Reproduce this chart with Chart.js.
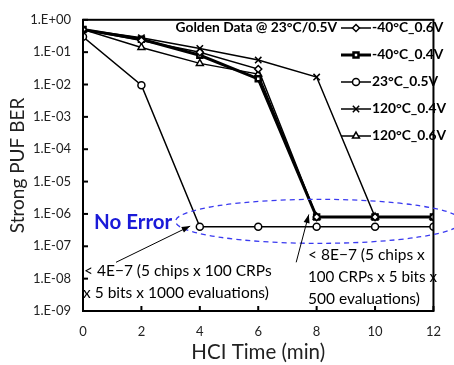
<!DOCTYPE html>
<html>
<head>
<meta charset="utf-8">
<script src="https://cdn.jsdelivr.net/npm/chart.js@4.4.1/dist/chart.umd.min.js"></script>
<style>
  html, body { margin: 0; padding: 0; background: #fff; }
  #wrap { width: 454px; height: 365px; }
</style>
</head>
<body>
<div id="wrap"><canvas id="chart" width="454" height="365"></canvas></div>
<script>
// HCI time (min) and BER per condition
const hciTime = [0, 2, 4, 6, 8, 10, 12];
const ber_m40_06 = [0.5, 0.23, 0.1, 0.03, 8e-7, 8e-7, 8e-7];
const ber_m40_04 = [0.5, 0.25, 0.08, 0.015, 8e-7, 8e-7, 8e-7];
const ber_23_05 = [0.3, 0.0095, 4e-7, 4e-7, 4e-7, 4e-7, 4e-7];
const ber_120_04 = [0.5, 0.28, 0.13, 0.057, 0.017, 8e-7, 8e-7];
const ber_120_06 = [0.5, 0.14, 0.045, 0.021, 8e-7, 8e-7, 8e-7];

const seriesLabels = ['-40°C_0.6V', '-40°C_0.4V', '23°C_0.5V', '120°C_0.4V', '120°C_0.6V'];
const yDecades = [1, 1e-1, 1e-2, 1e-3, 1e-4, 1e-5, 1e-6, 1e-7, 1e-8, 1e-9];
const xTicks = [0, 2, 4, 6, 8, 10, 12];

const FONT = 'Lato, "Open Sans", sans-serif';

function toPoints(values) {
  return hciTime.map((t, i) => ({ x: t, y: values[i] }));
}

function makeSet(label, values, style, extra) {
  return Object.assign({
    label,
    data: toPoints(values),
    borderColor: '#000',
    backgroundColor: '#fff',
    borderWidth: 1.5,
    pointStyle: style,
    pointRadius: 3.5,
    pointBorderWidth: 1.5,
    pointBorderColor: '#000',
    pointBackgroundColor: '#fff',
    tension: 0
  }, extra || {});
}

const datasets = [
  makeSet(seriesLabels[0], ber_m40_06, 'rectRot'),
  makeSet(seriesLabels[1], ber_m40_04, 'rect', { borderWidth: 3, pointBorderWidth: 2.5 }),
  makeSet(seriesLabels[2], ber_23_05, 'circle'),
  makeSet(seriesLabels[3], ber_120_04, 'crossRot', { pointRadius: 4.5 }),
  makeSet(seriesLabels[4], ber_120_06, 'triangle', { pointRadius: 4 })
];

// Frame, inward ticks, legend, ellipse and notes
const decorations = {
  id: 'decorations',
  afterDatasetsDraw(chart) {
    const ctx = chart.ctx;
    const area = chart.chartArea;
    const xs = chart.scales.x, ys = chart.scales.y;
    ctx.save();

    // frame
    ctx.strokeStyle = '#000';
    ctx.lineWidth = 2;
    ctx.strokeRect(area.left, area.top, area.right - area.left, area.bottom - area.top);

    // inward tick marks
    ctx.lineWidth = 2;
    yDecades.forEach(v => {
      const y = ys.getPixelForValue(v);
      ctx.beginPath(); ctx.moveTo(area.left, y); ctx.lineTo(area.left + 5, y); ctx.stroke();
    });
    xTicks.forEach(v => {
      const x = xs.getPixelForValue(v);
      ctx.beginPath(); ctx.moveTo(x, area.bottom); ctx.lineTo(x, area.bottom - 5); ctx.stroke();
    });

    // dashed ellipse around the error-free points
    const cx = xs.getPixelForValue(8.07);
    const cy = ys.getPixelForValue(5.9e-7);
    const rx = xs.getPixelForValue(8.07 + 4.9) - cx;
    const ry = ys.getPixelForValue(5.9e-7 * Math.pow(10, -0.68)) - cy;
    ctx.setLineDash([5, 4]);
    ctx.strokeStyle = '#3a3af0';
    ctx.lineWidth = 1.3;
    ctx.beginPath();
    ctx.ellipse(cx, cy, rx, ry, 0, 0, Math.PI * 2);
    ctx.stroke();
    ctx.setLineDash([]);

    // legend
    ctx.fillStyle = '#000';
    ctx.font = 'bold 13.8px ' + FONT;
    ctx.textBaseline = 'middle';
    ctx.textAlign = 'right';
    ctx.fillText('Golden Data @ 23°C/0.5V', 337, 28);
    ctx.textAlign = 'left';
    chart.data.datasets.forEach((ds, i) => {
      const y = 28 + i * 27;
      ctx.strokeStyle = '#000';
      ctx.lineWidth = ds.borderWidth;
      ctx.beginPath(); ctx.moveTo(341, y); ctx.lineTo(371, y); ctx.stroke();
      ctx.lineWidth = ds.pointBorderWidth;
      ctx.fillStyle = '#fff';
      Chart.helpers.drawPoint(ctx, { pointStyle: ds.pointStyle, radius: ds.pointRadius, borderWidth: ds.pointBorderWidth, rotation: 0 }, 356, y);
      ctx.fillStyle = '#000';
      ctx.fillText(ds.label, 372, y);
    });

    // "No Error"
    ctx.fillStyle = '#1a1ad8';
    ctx.font = 'bold 20.5px ' + FONT;
    ctx.fillText('No Error', 94, 222);

    // arrows
    const arrow = (x0, y0, x1, y1) => {
      const p0 = { x: xs.getPixelForValue(x0), y: ys.getPixelForValue(y0) };
      const p1 = { x: xs.getPixelForValue(x1), y: ys.getPixelForValue(y1) };
      const a = Math.atan2(p1.y - p0.y, p1.x - p0.x);
      ctx.strokeStyle = '#000';
      ctx.fillStyle = '#000';
      ctx.lineWidth = 1;
      ctx.beginPath(); ctx.moveTo(p0.x, p0.y); ctx.lineTo(p1.x, p1.y); ctx.stroke();
      ctx.beginPath();
      ctx.moveTo(p1.x, p1.y);
      ctx.lineTo(p1.x - 9 * Math.cos(a - 0.35), p1.y - 9 * Math.sin(a - 0.35));
      ctx.lineTo(p1.x - 9 * Math.cos(a + 0.35), p1.y - 9 * Math.sin(a + 0.35));
      ctx.closePath(); ctx.fill();
    };
    arrow(1.13, 3.2e-8, 3.67, 4.2e-7);
    arrow(7.3, 3.2e-8, 7.73, 9.6e-7);

    // notes
    ctx.fillStyle = '#000';
    ctx.font = '15.5px ' + FONT;
    ctx.fillText('< 4E\u22127 (5 chips x 100 CRPs', 84, 271);
    ctx.fillText('x 5 bits x 1000 evaluations)', 83, 293);
    ctx.fillText('< 8E\u22127 (5 chips x', 308, 255);
    ctx.fillText('100 CRPs x 5 bits x', 308, 277, 129);
    ctx.fillText('500 evaluations)', 308, 299);

    ctx.restore();
  }
};

const ctx = document.getElementById('chart').getContext('2d');
new Chart(ctx, {
  type: 'line',
  data: { datasets },
  options: {
    responsive: false,
    animation: false,
    devicePixelRatio: 1,
    layout: { padding: { left: 0, right: 11, top: 15, bottom: 0 } },
    plugins: { legend: { display: false }, tooltip: { enabled: false } },
    scales: {
      x: {
        type: 'linear',
        min: 0,
        max: 12,
        afterBuildTicks: scale => { scale.ticks = xTicks.map(v => ({ value: v })); },
        afterFit: scale => { scale.height = 54; },
        grid: { display: false, drawTicks: false },
        border: { display: false },
        ticks: { padding: 13, color: '#222', font: { family: FONT, size: 13 } },
        title: {
          display: true,
          text: 'HCI Time (min)',
          color: '#222',
          font: { family: FONT, size: 20.5 },
          padding: { top: 0, bottom: 0 }
        }
      },
      y: {
        type: 'logarithmic',
        min: 1e-9,
        max: 1,
        afterBuildTicks: scale => { scale.ticks = yDecades.map(v => ({ value: v })); },
        afterFit: scale => { scale.width = 83; },
        grid: { display: false, drawTicks: false },
        border: { display: false },
        ticks: {
          padding: 12,
          color: '#222',
          font: { family: FONT, size: 13 },
          callback: v => {
            const e = Math.round(Math.log10(v));
            const s = Math.abs(e) < 10 ? '0' + Math.abs(e) : String(Math.abs(e));
            return '1.E' + (e < 0 ? '-' : '+') + s;
          }
        },
        title: {
          display: true,
          text: 'Strong PUF BER',
          color: '#222',
          font: { family: FONT, size: 19 },
          padding: { top: 6, bottom: 0 }
        }
      }
    }
  },
  plugins: [decorations]
});
</script>
</body>
</html>
